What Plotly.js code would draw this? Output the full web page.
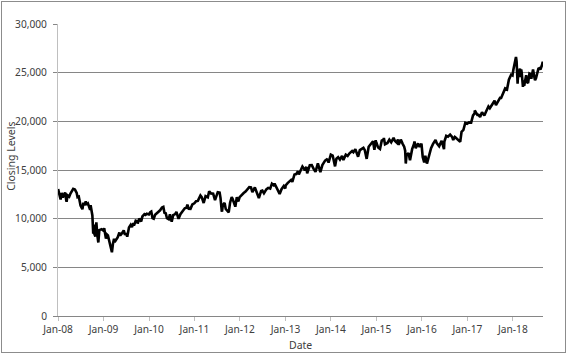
<!DOCTYPE html>
<html>
<head>
<meta charset="utf-8">
<script src="https://cdn.plot.ly/plotly-3.0.1.min.js"></script>
<style>
html,body{margin:0;padding:0;background:#fff;}
#chart{width:568px;height:355px;position:absolute;left:0;top:0;}
#frame{position:absolute;left:1px;top:1px;width:563px;height:350px;border:1px solid #8c8c8c;pointer-events:none;}
</style>
</head>
<body>
<div id="chart"></div>
<div id="frame"></div>
<script>
// Dow Jones closing levels, approximate readings (date, close)
var dates2008 = ["2008-01-02","2008-01-08","2008-01-15","2008-01-22","2008-01-31","2008-02-08","2008-02-15","2008-02-27","2008-03-07","2008-03-10","2008-03-18","2008-03-31","2008-04-10","2008-04-21","2008-05-02","2008-05-16","2008-05-30","2008-06-06","2008-06-16","2008-06-30","2008-07-15","2008-07-23","2008-07-31","2008-08-11","2008-08-20","2008-08-29","2008-09-05","2008-09-15","2008-09-19","2008-09-29","2008-10-03","2008-10-10","2008-10-13","2008-10-15","2008-10-27","2008-10-31","2008-11-04","2008-11-12","2008-11-20","2008-11-28","2008-12-08","2008-12-16","2008-12-31"];
var close2008 = [13044,12590,12501,11971,12650,12182,12348,12694,11894,11740,12392,12263,12581,12825,13058,12986,12638,12210,12269,11350,10963,11632,11378,11782,11417,11544,11220,10917,11388,10365,10325,8451,9387,8578,8175,9325,9625,8283,7552,8829,8934,8924,8776];

var dates2009 = ["2009-01-06","2009-01-20","2009-01-28","2009-02-05","2009-02-17","2009-02-27","2009-03-05","2009-03-09","2009-03-17","2009-03-26","2009-03-31","2009-04-14","2009-04-24","2009-05-08","2009-05-15","2009-05-29","2009-06-12","2009-06-22","2009-07-01","2009-07-10","2009-07-24","2009-08-07","2009-08-17","2009-08-28","2009-09-02","2009-09-16","2009-09-30","2009-10-02","2009-10-14","2009-10-30","2009-11-09","2009-11-25","2009-12-04","2009-12-14","2009-12-31"];
var close2009 = [9015,7949,8375,8280,7553,7063,6594,6547,7395,7924,7609,7920,8076,8575,8268,8500,8799,8339,8504,8146,9093,9370,9135,9544,9280,9791,9712,9488,10015,9712,10226,10464,10388,10501,10428];

var dates2010 = ["2010-01-11","2010-01-19","2010-01-29","2010-02-08","2010-02-19","2010-03-05","2010-03-19","2010-03-31","2010-04-15","2010-04-26","2010-05-06","2010-05-14","2010-05-25","2010-06-08","2010-06-18","2010-07-02","2010-07-14","2010-07-30","2010-08-09","2010-08-26","2010-09-10","2010-09-30","2010-10-15","2010-10-29","2010-11-05","2010-11-16","2010-11-30","2010-12-15","2010-12-31"];
var close2010 = [10663,10725,10067,10002,10402,10566,10742,10857,11145,11205,10520,10620,10043,9940,10450,9686,10366,10466,10698,9985,10462,10788,11062,11118,11444,11023,11006,11457,11578];

var dates2011 = ["2011-01-14","2011-01-28","2011-02-18","2011-02-28","2011-03-16","2011-03-31","2011-04-18","2011-04-29","2011-05-13","2011-05-31","2011-06-15","2011-06-30","2011-07-07","2011-07-22","2011-07-29","2011-08-08","2011-08-10","2011-08-17","2011-08-31","2011-09-09","2011-09-22","2011-10-03","2011-10-14","2011-10-27","2011-11-03","2011-11-25","2011-12-07","2011-12-19","2011-12-30"];
var close2011 = [11787,11824,12391,12226,11613,12320,12202,12811,12596,12570,11898,12414,12719,12681,12143,10810,10720,11410,11614,10992,10734,10655,11644,12209,12044,11231,12196,11766,12218];

var dates2012 = ["2012-01-13","2012-01-31","2012-02-15","2012-02-29","2012-03-16","2012-03-30","2012-04-10","2012-04-30","2012-05-15","2012-06-01","2012-06-19","2012-06-29","2012-07-12","2012-07-31","2012-08-15","2012-08-31","2012-09-14","2012-09-28","2012-10-05","2012-10-23","2012-11-15","2012-11-30","2012-12-18","2012-12-31"];
var close2012 = [12422,12633,12781,12952,13233,13212,12716,13214,12632,12119,12838,12880,12604,13009,13165,13091,13594,13437,13610,13103,12543,13026,13351,13104];

var dates2013 = ["2013-01-02","2013-01-18","2013-01-31","2013-02-15","2013-02-25","2013-03-14","2013-03-28","2013-04-11","2013-04-18","2013-04-30","2013-05-17","2013-05-31","2013-06-05","2013-06-18","2013-06-24","2013-07-15","2013-07-31","2013-08-15","2013-08-30","2013-09-18","2013-09-30","2013-10-08","2013-10-24","2013-11-15","2013-11-29","2013-12-06","2013-12-13","2013-12-31"];
var close2013 = [13412,13650,13861,13982,13784,14539,14579,14865,14537,14840,15354,15116,14960,15318,14660,15485,15500,15112,14810,15677,15130,14776,15510,15962,16086,16020,15755,16577];

var dates2014 = ["2014-01-15","2014-01-31","2014-02-03","2014-02-14","2014-02-28","2014-03-14","2014-03-31","2014-04-11","2014-04-30","2014-05-15","2014-05-30","2014-06-20","2014-06-30","2014-07-16","2014-07-31","2014-08-07","2014-08-21","2014-08-29","2014-09-19","2014-09-30","2014-10-15","2014-10-31","2014-11-14","2014-11-28","2014-12-05","2014-12-16","2014-12-26","2014-12-31"];
var close2014 = [16482,15699,15372,16154,16322,16065,16458,16027,16581,16447,16717,16948,16827,17138,16563,16368,17039,17098,17280,17043,16142,17391,17635,17828,17959,17068,18053,17823];

var dates2015 = ["2015-01-15","2015-01-30","2015-02-13","2015-02-27","2015-03-02","2015-03-11","2015-03-31","2015-04-15","2015-04-30","2015-05-19","2015-05-29","2015-06-15","2015-06-23","2015-06-29","2015-07-16","2015-07-31","2015-08-12","2015-08-20","2015-08-25","2015-08-31","2015-09-16","2015-09-28","2015-10-15","2015-10-30","2015-11-03","2015-11-13","2015-11-30","2015-12-02","2015-12-14","2015-12-29","2015-12-31"];
var close2015 = [17321,17165,18019,18133,18288,17635,17776,18113,17841,18312,18011,17791,18144,17596,18120,17690,17402,16990,15666,16528,16740,16001,17142,17664,17918,17245,17720,17730,17368,17720,17425];

var dates2016 = ["2016-01-08","2016-01-20","2016-01-29","2016-02-11","2016-02-29","2016-03-15","2016-03-31","2016-04-20","2016-04-29","2016-05-19","2016-05-31","2016-06-08","2016-06-27","2016-06-30","2016-07-15","2016-07-29","2016-08-15","2016-08-31","2016-09-09","2016-09-22","2016-09-30","2016-10-14","2016-11-04","2016-11-15","2016-11-30","2016-12-15","2016-12-30"];
var close2016 = [16346,15766,16466,15660,16517,17251,17685,18096,17774,17436,17787,18005,17140,17930,18517,18432,18636,18401,18085,18393,18308,18138,17889,18924,19124,19853,19763];

var dates2017 = ["2017-01-13","2017-01-31","2017-02-15","2017-02-28","2017-03-01","2017-03-22","2017-03-31","2017-04-13","2017-04-28","2017-05-17","2017-05-31","2017-06-19","2017-06-30","2017-07-14","2017-07-31","2017-08-07","2017-08-18","2017-08-31","2017-09-20","2017-09-29","2017-10-16","2017-10-31","2017-11-15","2017-11-30","2017-12-18","2017-12-29"];
var close2017 = [19886,19864,20611,20812,21115,20661,20663,20453,20940,20607,21009,21528,21350,21638,21891,22118,21675,21948,22412,22405,22957,23377,23271,24272,24792,24719];

var dates2018 = ["2018-01-05","2018-01-12","2018-01-18","2018-01-26","2018-01-31","2018-02-02","2018-02-05","2018-02-08","2018-02-09","2018-02-14","2018-02-27","2018-03-02","2018-03-09","2018-03-13","2018-03-22","2018-03-23","2018-03-26","2018-04-02","2018-04-06","2018-04-18","2018-04-24","2018-05-03","2018-05-14","2018-05-22","2018-05-29","2018-06-12","2018-06-22","2018-06-28","2018-07-06","2018-07-17","2018-07-25","2018-08-03","2018-08-10","2018-08-22","2018-08-29","2018-08-31"];
var close2018 = [25296,25803,26017,26617,26149,25521,24346,23860,24191,24893,25410,24538,25336,25007,23958,23533,24202,23644,23933,24748,24024,23930,24899,24834,24362,25320,24581,24216,24456,25120,25414,25463,25313,25733,26124,25965];

var tickDates = ["2008-01-01","2009-01-01","2010-01-01","2011-01-01","2012-01-01","2013-01-01","2014-01-01","2015-01-01","2016-01-01","2017-01-01","2018-01-01"];
var tickLabels = ["Jan-08","Jan-09","Jan-10","Jan-11","Jan-12","Jan-13","Jan-14","Jan-15","Jan-16","Jan-17","Jan-18"];
var yTickVals = [0,5000,10000,15000,20000,25000,30000];
var yTickLabels = ["0","5,000","10,000","15,000","20,000","25,000","30,000"];

var dates = [].concat(dates2008,dates2009,dates2010,dates2011,dates2012,dates2013,dates2014,dates2015,dates2016,dates2017,dates2018);
var closes = [].concat(close2008,close2009,close2010,close2011,close2012,close2013,close2014,close2015,close2016,close2017,close2018);

var tickFont = {family: "Noto Sans, DejaVu Sans, sans-serif", size: 10.2, color: "#404040"};
var titleFont = {family: "Noto Sans, DejaVu Sans, sans-serif", size: 10.5, color: "#404040"};

var trace = {
  x: dates, y: closes, type: "scatter", mode: "lines",
  line: {color: "#000000", width: 2.6},
  hoverinfo: "skip"
};

var layout = {
  width: 568, height: 355,
  margin: {l: 58, r: 25, t: 24, b: 39, pad: 0},
  paper_bgcolor: "#ffffff", plot_bgcolor: "#ffffff",
  showlegend: false,
  font: tickFont,
  xaxis: {
    type: "date",
    range: ["2008-01-01", "2018-08-31"],
    tickmode: "array", tickvals: tickDates, ticktext: tickLabels,
    ticks: "outside", ticklen: 4, tickcolor: "#bfbfbf", tickwidth: 1,
    showgrid: false, zeroline: false,
    showline: true, linecolor: "#868686", linewidth: 1,
    tickfont: tickFont, tickangle: 0
  },
  yaxis: {
    range: [0, 30000],
    tickmode: "array", tickvals: yTickVals, ticktext: yTickLabels,
    ticks: "outside", ticklen: 4, tickcolor: "#868686", tickwidth: 1,
    ticklabelstandoff: 4,
    showgrid: true, gridcolor: "#868686", gridwidth: 1,
    zeroline: false,
    showline: true, linecolor: "#bfbfbf", linewidth: 1,
    tickfont: tickFont
  },
  annotations: [
    {text: "Closing Levels", xref: "paper", yref: "paper", x: -0.0969, y: 0.545,
     textangle: -90, showarrow: false, font: titleFont, xanchor: "center", yanchor: "middle"},
    {text: "Date", xref: "paper", yref: "paper", x: 0.499, y: -0.0993,
     showarrow: false, font: titleFont, xanchor: "center", yanchor: "middle"}
  ]
};

Plotly.newPlot("chart", [trace], layout, {staticPlot: true, displayModeBar: false});
</script>
</body>
</html>
